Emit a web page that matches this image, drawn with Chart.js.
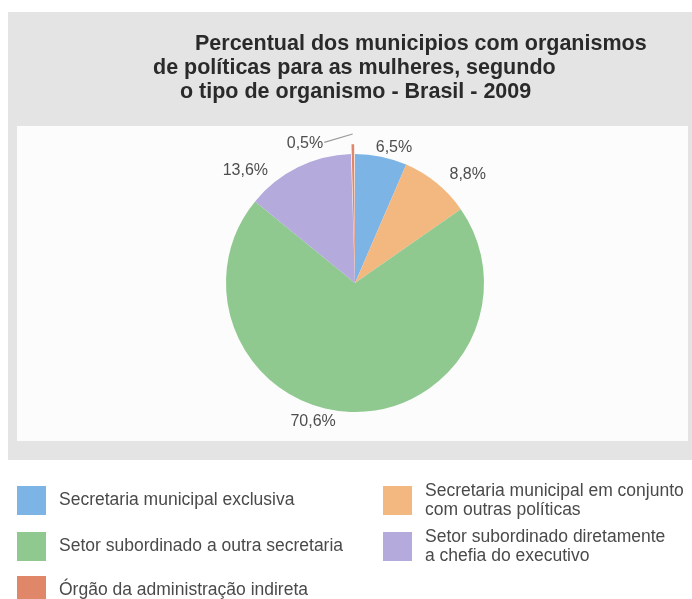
<!DOCTYPE html>
<html lang="pt-BR">
<head>
<meta charset="utf-8">
<title>Organismos de políticas para as mulheres - 2009</title>
<script src="https://cdn.jsdelivr.net/npm/chart.js@4.4.1/dist/chart.umd.min.js"></script>
<style>
    body { margin: 0; background: #fff; }
    #grafico { display: block; }
</style>
</head>
<body>
<canvas id="grafico" width="692" height="599"></canvas>
<script>
/* Dados do gráfico */
const tipos = [
    'Secretaria municipal exclusiva',
    ['Secretaria municipal em conjunto', 'com outras políticas'],
    'Setor subordinado a outra secretaria',
    ['Setor subordinado diretamente', 'a chefia do executivo'],
    'Órgão da administração indireta'
];
const percentuais = [6.5, 8.8, 70.6, 13.6, 0.5];
const cores = ['#7db4e6', '#f3b880', '#8fc98f', '#b4aadb', '#df8768'];
const titulo = [
    'Percentual dos municipios com organismos',
    'de políticas para as mulheres, segundo',
    'o tipo de organismo - Brasil - 2009'
];

// fundo cinza + caixa branca do gráfico
const fundo = {
    id: 'fundo',
    beforeDraw(chart) {
        const c = chart.ctx;
        c.save();
        c.fillStyle = '#ffffff';
        c.fillRect(0, 0, chart.width, chart.height);
        c.fillStyle = '#e4e4e5';
        c.fillRect(8, 12, chart.width - 8, 448);
        c.fillStyle = '#fcfcfd';
        c.fillRect(17, 126, 671, 315);
        c.restore();
    }
};

// título em três linhas (alinhamento do original)
const tituloPlugin = {
    id: 'tituloPlugin',
    afterDraw(chart) {
        const c = chart.ctx;
        const xs = [195, 153, 180];
        const ys = [44, 68, 92];
        c.save();
        c.fillStyle = '#2a2a2a';
        c.font = 'bold 21.5px "Liberation Sans", Arial, sans-serif';
        c.textBaseline = 'middle';
        titulo.forEach((t, i) => c.fillText(t, xs[i], ys[i]));
        c.restore();
    }
};

// rótulos de percentual em volta da pizza
const rotulos = {
    id: 'rotulos',
    afterDatasetsDraw(chart, args, opts) {
        const c = chart.ctx;
        const meta = chart.getDatasetMeta(0);
        c.save();
        c.font = '16px "Liberation Sans", Arial, sans-serif';
        c.fillStyle = '#4e4e4e';
        c.textAlign = 'center';
        c.textBaseline = 'middle';
        meta.data.forEach((arc, i) => {
            const p = arc.getProps(['x', 'y', 'startAngle', 'endAngle', 'outerRadius'], true);
            const meio = (p.startAngle + p.endAngle) / 2;
            const ang = meio + opts.desvio[i] * Math.PI / 180;
            const r = p.outerRadius * opts.fator[i];
            const lx = p.x + Math.cos(ang) * r;
            const ly = p.y + Math.sin(ang) * r;
            const txt = percentuais[i].toFixed(1).replace('.', ',') + '%';
            c.fillText(txt, lx, ly);
            const off = arc.options.offset || 0;
            if (off > 0) {
                // linha de chamada da fatia destacada
                const w = c.measureText(txt).width;
                c.strokeStyle = '#9a9a9a';
                c.lineWidth = 1.2;
                c.beginPath();
                c.moveTo(lx + w / 2 + 1, ly - 1);
                c.lineTo(p.x + Math.cos(meio) * (p.outerRadius + off), p.y + Math.sin(meio) * (p.outerRadius + off));
                c.stroke();
            }
        });
        c.restore();
    }
};

// legenda em duas colunas
const legenda = {
    id: 'legenda',
    afterDraw(chart) {
        const c = chart.ctx;
        const colX = [17, 383];
        const linY = [486, 532, 576];
        c.save();
        c.font = '17.5px "Liberation Sans", Arial, sans-serif';
        c.textBaseline = 'middle';
        tipos.forEach((t, i) => {
            const x = colX[i % 2];
            const y = linY[Math.floor(i / 2)];
            c.fillStyle = cores[i];
            c.fillRect(x, y, 29, 29);
            const linhas = Array.isArray(t) ? t : [t];
            const y0 = y + 14.5 - (linhas.length - 1) * 9.5;
            c.fillStyle = '#4a4a4a';
            linhas.forEach((l, j) => c.fillText(l, x + 42, y0 + j * 19));
        });
        c.restore();
    }
};

const ctx = document.getElementById('grafico');
new Chart(ctx, {
    type: 'pie',
    data: {
        labels: tipos,
        datasets: [{
            data: percentuais,
            backgroundColor: cores,
            borderWidth: 0,
            offset: [0, 0, 0, 0, 20],
            hoverOffset: 0
        }]
    },
    options: {
        responsive: false,
        animation: false,
        devicePixelRatio: 1,
        radius: 129,
        layout: {
            padding: { left: 150, right: 132, top: 140, bottom: 173 }
        },
        plugins: {
            legend: { display: false },
            tooltip: { enabled: false },
            rotulos: {
                desvio: [4.4, 7, 14.7, -17.9, -18.8],
                fator: [1.09, 1.21, 1.12, 1.22, 1.15]
            }
        }
    },
    plugins: [fundo, tituloPlugin, rotulos, legenda]
});
</script>
</body>
</html>
